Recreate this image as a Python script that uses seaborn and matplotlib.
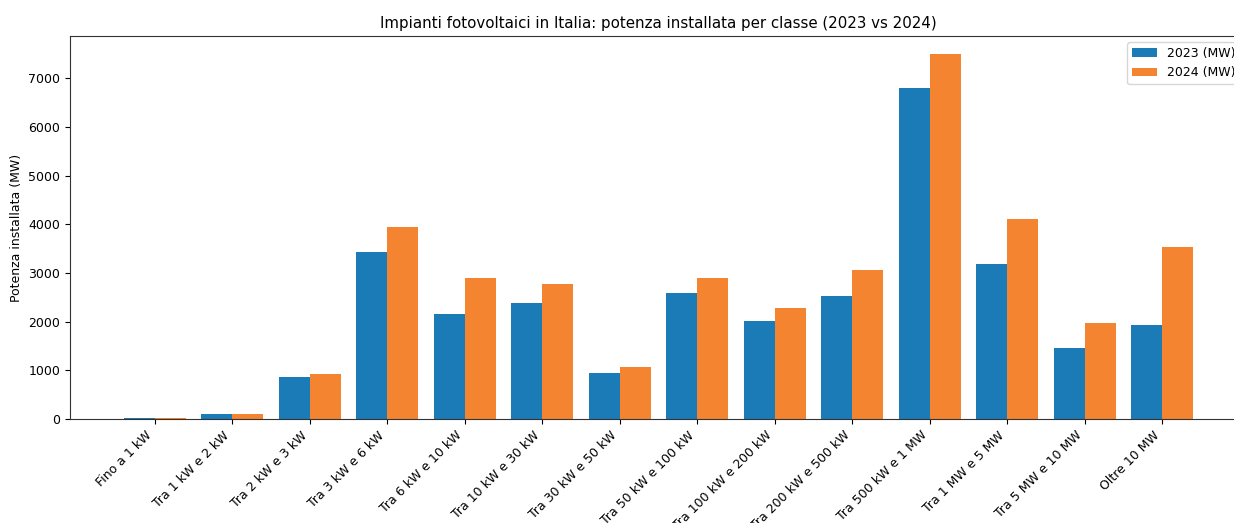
import pandas as pd
import matplotlib.pyplot as plt
import seaborn as sns

# classi di potenza e potenza installata (MW)
classi = [
    "Fino a 1 kW", "Tra 1 kW e 2 kW", "Tra 2 kW e 3 kW", "Tra 3 kW e 6 kW",
    "Tra 6 kW e 10 kW", "Tra 10 kW e 30 kW", "Tra 30 kW e 50 kW",
    "Tra 50 kW e 100 kW", "Tra 100 kW e 200 kW", "Tra 200 kW e 500 kW",
    "Tra 500 kW e 1 MW", "Tra 1 MW e 5 MW", "Tra 5 MW e 10 MW", "Oltre 10 MW",
]
mw_2023 = [25, 95, 865, 3424, 2150, 2380, 947, 2585, 2008, 2532, 6794, 3183, 1452, 1935]
mw_2024 = [27, 97, 918, 3945, 2903, 2772, 1062, 2903, 2290, 3068, 7494, 4112, 1972, 3536]
serie = ["2023 (MW)", "2024 (MW)"]

df = pd.DataFrame({
    "classe": classi * 2,
    "anno": [serie[0]] * len(classi) + [serie[1]] * len(classi),
    "potenza": mw_2023 + mw_2024,
})

plt.rcParams["font.size"] = 9

fig = plt.figure(figsize=(12.34, 5.23), dpi=100)
ax = fig.add_axes([70 / 1234, 104 / 523, 1177 / 1234, 383 / 523])

sns.barplot(data=df, x="classe", y="potenza", hue="anno", order=classi,
            palette=["#1a7bb6", "#f58430"], saturation=1, width=0.8,
            errorbar=None, ax=ax)

ax.set_xlim(-1.09, 14.09)
ax.set_ylim(0, 7494 * 1.05)
ax.set_title("Impianti fotovoltaici in Italia: potenza installata per classe (2023 vs 2024)",
             fontsize=10.8)
ax.set_xlabel("")
ax.set_ylabel("Potenza installata (MW)")
ax.tick_params(labelsize=9)
plt.setp(ax.get_xticklabels(), rotation=45, ha="right")
for s in ax.spines.values():
    s.set_color("#333333")
ax.legend(title=None, loc="upper right", fontsize=9)

fig.savefig("out.png", dpi=100)
